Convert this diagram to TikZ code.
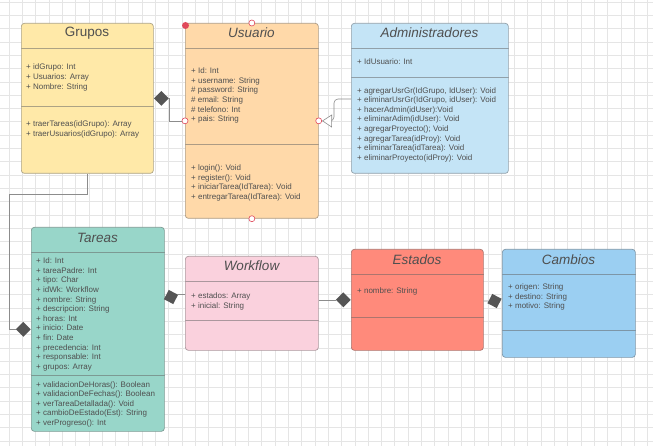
\documentclass[tikz,border=0pt]{standalone}
\usepackage{fontspec}
\setmainfont{Liberation Sans}
\usetikzlibrary{shapes.geometric,arrows.meta}

\definecolor{grupofill}{HTML}{FFE9A8}
\definecolor{usuariofill}{HTML}{FFD9A9}
\definecolor{adminfill}{HTML}{C4E4F6}
\definecolor{tareafill}{HTML}{98D6C9}
\definecolor{wffill}{HTML}{FAD1DD}
\definecolor{estadofill}{HTML}{FF8A7B}
\definecolor{cambiofill}{HTML}{9BCFF2}
\definecolor{portred}{HTML}{E0485A}
\definecolor{diagray}{HTML}{555555}
\definecolor{textgray}{HTML}{4F4F4F}

\begin{document}
\begin{tikzpicture}[x=1pt,y=-1pt,
    gridline/.style={black!10,line width=0.5pt},
    classbox/.style={rounded corners=3pt,line width=0.7pt,anchor=north west,inner sep=0pt},
    title/.style={font=\fontsize{13.5}{15}\selectfont,text=textgray,inner sep=0pt},
    ititle/.style={title,font=\fontsize{13.5}{15}\selectfont\itshape},
    members/.style={font=\fontsize{8}{9.6}\selectfont,text=textgray,align=left,anchor=north west,inner sep=0pt},
    port/.style={circle,draw=portred,fill=white,line width=0.6pt,inner sep=0pt,minimum size=6pt},
    agg/.style={diamond,fill=diagray,inner sep=0pt,minimum width=15pt,minimum height=15pt},
    assoc/.style={draw=black!45,line width=0.6pt}]
    \useasboundingbox (0,0) rectangle (653,446);
    % background grid
    \foreach \gx in {9,22.3,...,653} \draw[gridline] (\gx,0) -- (\gx,446);
    \foreach \gy in {2,15.3,...,446} \draw[gridline] (0,\gy) -- (653,\gy);

    % classes
    \node[classbox,draw=grupofill!60!black!80,fill=grupofill,minimum width=132pt,minimum height=150pt] (grupos) at (21,23) {};
    \node[classbox,draw=usuariofill!60!black!80,fill=usuariofill,minimum width=133pt,minimum height=195pt] (usuario) at (185,23) {};
    \node[classbox,draw=adminfill!60!black!80,fill=adminfill,minimum width=157pt,minimum height=150pt] (admin) at (351,23) {};
    \node[classbox,draw=tareafill!60!black!80,fill=tareafill,minimum width=133pt,minimum height=204pt] (tareas) at (31,227) {};
    \node[classbox,draw=wffill!60!black!80,fill=wffill,minimum width=133pt,minimum height=94pt] (workflow) at (185,256) {};
    \node[classbox,draw=estadofill!60!black!80,fill=estadofill,minimum width=132pt,minimum height=101pt] (estados) at (351,249) {};
    \node[classbox,draw=cambiofill!60!black!80,fill=cambiofill,minimum width=133pt,minimum height=108pt] (cambios) at (502,249) {};

    % compartment lines
    \foreach \b/\c/\ya/\yb in {grupos/grupofill/48/106, usuario/usuariofill/48/144,
        admin/adminfill/48/77, tareas/tareafill/252/375, workflow/wffill/281/320,
        estados/estadofill/274/317, cambios/cambiofill/274/330}
    {
        \draw[draw=\c!60!black!80,line width=0.7pt] (\b.west |- 0,\ya) -- (\b.east |- 0,\ya);
        \draw[draw=\c!60!black!80,line width=0.7pt] (\b.west |- 0,\yb) -- (\b.east |- 0,\yb);
    }

    % titles
    \node[title] (grupos-name) at (87,33) {Grupos};
    \node[ititle] (usuario-name) at (251.5,33) {Usuario};
    \node[ititle] (admin-name) at (429.5,33) {Administradores};
    \node[ititle] (tareas-name) at (97.5,238) {Tareas};
    \node[ititle] (workflow-name) at (251.5,266) {Workflow};
    \node[ititle] (estados-name) at (417,260) {Estados};
    \node[ititle] (cambios-name) at (568.5,260) {Cambios};

    % attributes and methods
    \node[members] (grupos-attr) at (26,64) {+ idGrupo: Int\\+ Usuarios: Array\\+ Nombre: String};
    \node[members] (grupos-ops) at (26,121) {+ traerTareas(idGrupo): Array\\+ traerUsuarios(idGrupo): Array};
    \node[members] (usuario-attr) at (191,67.8) {+ Id: Int\\+ username: String\\\# password: String\\\# email: String\\\# telefono: Int\\+ pais: String};
    \node[members] (usuario-ops) at (191,164.8) {+ login(): Void\\+ register(): Void\\+ iniciarTarea(IdTarea): Void\\+ entregarTarea(IdTarea): Void};
    \node[members] (admin-attr) at (357,59) {+ IdUsuario: Int};
    \node[members] (admin-ops) at (357,87.1) {+ agregarUsrGr(IdGrupo, IdUser): Void\\+ eliminarUsrGr(IdGrupo, idUser): Void\\+ hacerAdmin(idUser):Void\\+ eliminarAdim(idUser): Void\\+ agregarProyecto(); Void\\+ agregarTarea(idProy): Void\\+ eliminarTarea(idTarea): Void\\+ eliminarProyecto(idProy): Void};
    \node[members] (tareas-attr) at (36,257.8) {+ Id: Int\\+ tareaPadre: Int\\+ tipo: Char\\+ idWk: Workflow\\+ nombre: String\\+ descripcion: String\\+ horas: Int\\+ inicio: Date\\+ fin: Date\\+ precedencia: Int\\+ responsable: Int\\+ grupos: Array};
    \node[members] (tareas-ops) at (36,381.1) {+ validacionDeHoras(): Boolean\\+ validacionDeFechas(): Boolean\\+ verTareaDetallada(): Void\\+ cambioDeEstado(Est): String\\+ verProgreso(): Int};
    \node[members] (workflow-attr) at (191,292.8) {+ estados: Array\\+ inicial: String};
    \node[members] (estados-attr) at (357,287.1) {+ nombre: String};
    \node[members] (cambios-attr) at (508,283.8) {+ origen: String\\+ destino: String\\+ motivo: String};

    % ports on Usuario
    \node[port] (usr-t) at (usuario.north) {};
    \node[port] (usr-b) at (usuario.south) {};
    \node[port] (usr-l) at (usuario.west) {};
    \node[port] (usr-r) at (usuario.east) {};
    \node[circle,fill=portred,inner sep=0pt,minimum size=7pt] (usr-dot) at (185.5,25.5) {};

    % aggregation diamonds
    \node[agg,anchor=west] (gu-dia) at (grupos.east) {};
    \node[agg,anchor=east] (gt-dia) at (tareas.west) {};
    \node[agg,rotate=18] (tw-dia) at (171,297) {};
    \node[agg,anchor=east] (we-dia) at (estados.west) {};
    \node[agg,rotate=18] (ec-dia) at (494.5,301) {};

    % connectors
    \draw[assoc] (gu-dia.east) |- (usr-l);
    \coordinate (admin-in) at (admin.west |- 0,99);
    \draw[assoc,rounded corners=4pt,-{Triangle[open,length=10pt,width=13pt,fill=white]}] (admin-in) -| (334,121) -- (usr-r);
    \draw[assoc] (grupos.south -| 87,0) |- (9,194) |- (gt-dia.west);
    \draw[assoc] (tw-dia.east) -- (workflow.west |- tw-dia.east);
    \draw[assoc] (workflow.east |- we-dia.west) -- (we-dia.west);
    \draw[assoc] (estados.east |- ec-dia) -- (ec-dia);
\end{tikzpicture}
\end{document}
